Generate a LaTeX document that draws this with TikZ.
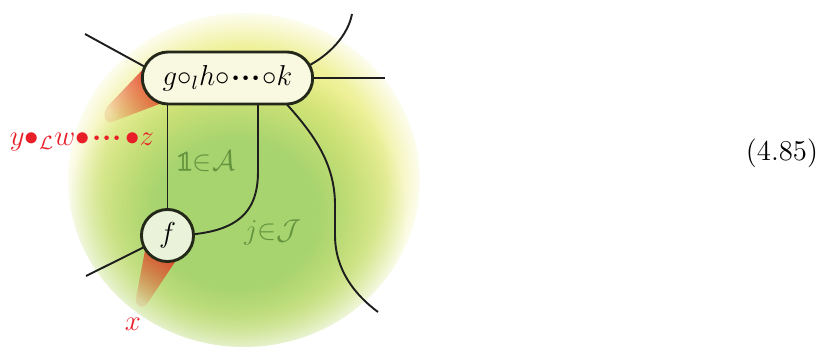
\documentclass[tikz,border=0pt]{standalone}
\usepackage{amssymb}
\usepackage{amsmath}
\usepackage{fontspec}
\newfontfamily\lmmath[FakeBold=1.6]{latinmodern-math.otf}
\newcommand{\onebb}{\text{\lmmath ^^^^^^01d7d9}}
\newcommand{\tdots}{\boldsymbol{\cdot}\mkern-3.5mu\boldsymbol{\cdot}\mkern-3.5mu\boldsymbol{\cdot}}
\usetikzlibrary{fadings,calc,shapes.misc}
\definecolor{bgreen}{RGB}{168,212,112}
\definecolor{byel}{RGB}{234,236,122}
\definecolor{conered}{RGB}{228,55,35}
\definecolor{redtxt}{RGB}{232,30,40}
\definecolor{greentxt}{RGB}{100,148,62}
\definecolor{nodeborder}{RGB}{35,40,25}
\definecolor{boxfill}{RGB}{249,249,226}
\definecolor{circfill}{RGB}{234,242,218}
\definecolor{linecol}{RGB}{30,30,30}
\pgfdeclareradialshading{blobsh}{\pgfpoint{0bp}{0bp}}{color(0bp)=(byel); color(14bp)=(byel); color(20bp)=(byel!75!white); color(25bp)=(byel!12!white); color(50bp)=(byel!12!white)}
\pgfdeclareradialshading{spotsh}{\pgfpointorigin}{color(0bp)=(white); color(12bp)=(white); color(25bp)=(black); color(50bp)=(black)}
\pgfdeclarefading{spotfade}{\pgfuseshading{spotsh}}
\tikzfading[name=conefade, left color=transparent!88, right color=transparent!0]
\pgfdeclarelayer{bg}
\pgfdeclarelayer{mid}
\pgfsetlayers{bg,mid,main}
\tikzset{
  conn/.style={draw=linecol, line width=0.8pt},
  boxnode/.style={rounded rectangle, draw=nodeborder, line width=1.2pt, fill=boxfill, minimum width=71pt, minimum height=21.7pt, inner sep=0pt},
  circnode/.style={circle, draw=nodeborder, line width=1.2pt, fill=circfill, minimum size=21.7pt, inner sep=0pt},
  redlabel/.style={text=redtxt, inner sep=0pt},
  greenlabel/.style={text=greentxt, inner sep=0pt},
  cone/.style={fill=conered, path fading=conefade}
}
\begin{document}
\begin{tikzpicture}[x=0.4167pt, y=-0.4167pt, every node/.style={font=\large}]
\useasboundingbox (0,0) rectangle (834,352);
\node[boxnode] (G) at (227.5,78) {$g{\circ_l}h{\circ}\mkern1mu{\tdots}\mkern1mu{\circ}k$};
\node[circnode] (F) at (167.5,235.5) {$f$};
\coordinate (tl) at (85,34);
\coordinate (tr) at (352,14);
\coordinate (r) at (385,78);
\coordinate (bl) at (86,276);
\coordinate (br) at (378,312);
\begin{pgfonlayer}{bg}
  \shade[shading=blobsh] (244,180) ellipse [x radius=176, y radius=167];
  \begin{scope}
    \clip (244,180) ellipse [x radius=176, y radius=167];
    \fill[bgreen, path fading=spotfade] (236,214) ellipse [x radius=170, y radius=155];
  \end{scope}
\end{pgfonlayer}
\begin{pgfonlayer}{mid}
  \fill[cone, fading angle=35] (150,62) -- (108,106) .. controls (102,113) and (104,124) .. (112,122) -- (170,100) -- cycle;
  \fill[cone, fading angle=65] (147,240) -- (136,298) .. controls (135,306) and (142,310) .. (147,304) -- (183,250) -- cycle;
  \draw[conn] (tl) -- ($(G.west)+(8,-9)$);
  \draw[conn] ($(G.east)+(-8,-11)$) .. controls (330,55) and (348,35) .. (tr);
  \draw[conn] (G.east) -- (r);
  \draw[conn] (F.center) -- (F.center |- G.center);
  \draw[conn] ($(G.south)+(30.5,-4)$) -- ++(0,70) .. controls (258,215) and (235,235.5) .. (F.center);
  \draw[conn] ($(G.south)+(55,-6)$) .. controls (310,130) and (335,160) .. (335,205) -- (335,235) .. controls (335,270) and (355,295) .. (br);
  \draw[conn] (F.center) -- (bl);
\end{pgfonlayer}
\node[redlabel] (Y) at (82,141) {$y{\bullet_{\mathcal L}}w{\bullet}\mkern2mu{\tdots}\mkern2mu{\bullet}z$};
\node[greenlabel] (A) at (206,161) {$\onebb{\in}\mathcal A$};
\node[greenlabel] (J) at (273,232) {$j{\in}\mathcal J$};
\node[redlabel] (X) at (133,324) {$x$};
\node[inner sep=0pt] (E) at (782,153) {(4.85)};
\end{tikzpicture}
\end{document}
